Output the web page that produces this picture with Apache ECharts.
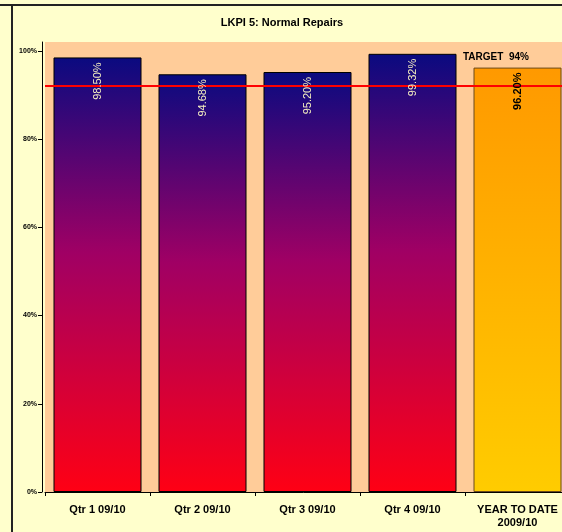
<!DOCTYPE html>
<html>
<head>
<meta charset="utf-8">
<script src="https://cdn.jsdelivr.net/npm/echarts@6/dist/echarts.min.js"></script>
<style>
html,body{margin:0;padding:0;background:#FFFFCC;}
#c{width:562px;height:532px;}
</style>
</head>
<body>
<div id="c"></div>
<script>
const titleText = 'LKPI 5: Normal Repairs';
const categories = ['Qtr 1 09/10', 'Qtr 2 09/10', 'Qtr 3 09/10', 'Qtr 4 09/10', 'YEAR TO DATE\n2009/10'];
const values = [98.50, 94.68, 95.20, 99.32, 96.20];
const valueLabels = ['98.50%', '94.68%', '95.20%', '99.32%', '96.20%'];
const targetLine = 92.1;
const targetText = 'TARGET  94%';
const yTicks = [0, 20, 40, 60, 80, 100];

const chart = echarts.init(document.getElementById('c'), null, {renderer: 'canvas'});

const quarterGrad = new echarts.graphic.LinearGradient(0, 0, 0, 1, [
  {offset: 0, color: '#0A0A80'},
  {offset: 0.45, color: '#A00064'},
  {offset: 1, color: '#FF0014'}
]);
const ytdGrad = new echarts.graphic.LinearGradient(0, 0, 0, 1, [
  {offset: 0, color: '#FF9900'},
  {offset: 1, color: '#FFCC00'}
]);

const barData = values.map((v, i) => {
  const ytd = i === values.length - 1;
  return {
    value: v,
    itemStyle: {color: ytd ? ytdGrad : quarterGrad, borderColor: ytd ? '#6B4A1A' : '#000000', borderWidth: 1}
  };
});
const labelData = values.map((v, i) => {
  const ytd = i === values.length - 1;
  return {
    value: v,
    label: ytd ? {color: '#000000', fontWeight: 'bold'} : {color: '#F5EFC0', fontWeight: 'normal'}
  };
});

chart.setOption({
  backgroundColor: '#FFFFCC',
  animation: false,
  title: {
    text: titleText, left: 277, top: 12, textAlign: 'center',
    textStyle: {fontFamily: 'Liberation Sans, Arial', fontSize: 11, fontWeight: 'bold', color: '#000'}
  },
  graphic: [
    {type: 'line', shape: {x1: 0, y1: 5, x2: 562, y2: 5}, style: {stroke: '#222', lineWidth: 2}},
    {type: 'line', shape: {x1: 12, y1: 5, x2: 12, y2: 532}, style: {stroke: '#222', lineWidth: 2}},
    {type: 'text', left: 463, top: 52, style: {text: targetText, fontFamily: 'Liberation Sans, Arial', fontSize: 10, fontWeight: 'bold', fill: '#000'}}
  ],
  grid: {left: 45, top: 42, width: 525, bottom: 40, outerBoundsMode: 'none', containLabel: false,
    show: true, backgroundColor: '#FFCC99', borderColor: '#999999', borderWidth: 0},
  xAxis: {
    type: 'category', data: categories,
    axisLine: {lineStyle: {color: '#000', width: 1}},
    axisTick: {show: true, interval: 0, length: 4, lineStyle: {color: '#000'}},
    axisLabel: {interval: 0, hideOverlap: false, fontFamily: 'Liberation Sans, Arial', fontSize: 11, fontWeight: 'bold', color: '#000', margin: 11, lineHeight: 13}
  },
  yAxis: {
    type: 'value', min: 0, max: 102, offset: 3,
    axisLine: {show: true, lineStyle: {color: '#000', width: 1}},
    axisTick: {show: true, length: 4, lineStyle: {color: '#000'}, customValues: yTicks},
    axisLabel: {fontFamily: 'Liberation Sans, Arial', fontSize: 7, fontWeight: 'bold', color: '#000', margin: 5,
      customValues: yTicks, formatter: v => v + '%'},
    splitLine: {show: false}
  },
  series: [
    {
      type: 'bar', data: barData, barWidth: 88, z: 2, label: {show: false}
    },
    {
      type: 'line', data: [], z: 3, symbol: 'none',
      markLine: {
        silent: true, symbol: 'none', label: {show: false}, z: 3,
        lineStyle: {color: '#FF0000', width: 2, type: 'solid'},
        data: [{yAxis: targetLine}]
      }
    },
    {
      type: 'bar', data: labelData, barWidth: 88, barGap: '-100%', z: 4,
      itemStyle: {color: 'rgba(0,0,0,0)', borderWidth: 0},
      label: {
        show: true, position: 'insideTop', rotate: 90, align: 'right', verticalAlign: 'middle', distance: 5,
        fontFamily: 'Liberation Sans, Arial', fontSize: 11,
        formatter: p => valueLabels[p.dataIndex]
      }
    }
  ]
});
</script>
</body>
</html>
